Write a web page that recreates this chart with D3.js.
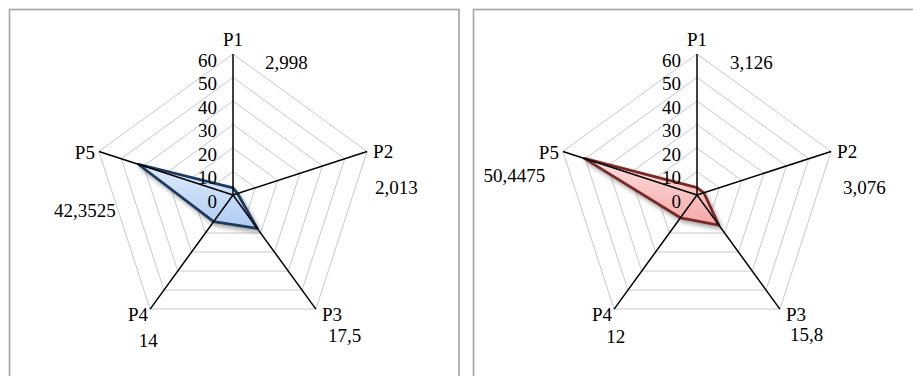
<!DOCTYPE html>
<html>
<head>
<meta charset="utf-8">
<script src="https://cdn.jsdelivr.net/npm/d3@7/dist/d3.min.js"></script>
<style>
  html, body { margin: 0; padding: 0; background: #fff; }
  svg { display: block; }
</style>
</head>
<body>
<svg id="chart" width="913" height="376"></svg>
<script>
// Axis categories and tick values
const categories = ["P1", "P2", "P3", "P4", "P5"];
const tickValues = [0, 10, 20, 30, 40, 50, 60];

// Series values for the two radar panels
const valuesLeft = [2.998, 2.013, 17.5, 14, 42.3525];
const valuesRight = [3.126, 3.076, 15.8, 12, 50.4475];

const FONT = "'Liberation Serif', 'Times New Roman', 'DejaVu Serif', serif";
const FONT_SIZE = 19;

// Layout of each panel
const panels = [
  {
    values: valuesLeft, box: { x: 9.5, y: 9.5, w: 449.5, h: 380 },
    cx: 233, cy: 195, fillTop: "#e1ecfb", fillBottom: "#aecbf4", stroke: "#1c3a5e",
    // label offsets from each axis end point: [dx, dy, anchor]
    labelOffsets: [[32, 8, "start"], [8, 36, "start"], [12, 26, "start"], [-2, 31, "middle"], [-14, 59, "middle"]]
  },
  {
    values: valuesRight, box: { x: 473.5, y: 9.5, w: 460, h: 380 },
    cx: 697, cy: 195, fillTop: "#fde0df", fillBottom: "#f5a8a7", stroke: "#7a2c28",
    labelOffsets: [[33, 8, "start"], [12, 36, "start"], [10, 25, "start"], [1.5, 27, "middle"], [-48.5, 24, "middle"]]
  }
];

const svg = d3.select("#chart");
const defs = svg.append("defs");

const shadow = defs.append("filter").attr("id", "shadow")
  .attr("x", "-20%").attr("y", "-20%").attr("width", "140%").attr("height", "140%");
shadow.append("feDropShadow").attr("dx", 2).attr("dy", 3).attr("stdDeviation", 2)
  .attr("flood-color", "#000").attr("flood-opacity", 0.35);

const r = d3.scaleLinear().domain([0, 60]).range([0, 141]);
const angle = d3.scalePoint().domain(categories).range([0, 2 * Math.PI * 4 / 5]);

const fmt = v => String(v).replace(".", ",");

function label(sel, x, y, anchor, str) {
  return sel.append("text")
    .attr("x", x).attr("y", y)
    .attr("text-anchor", anchor).attr("dominant-baseline", "central")
    .attr("font-family", FONT).attr("font-size", FONT_SIZE).attr("fill", "#000")
    .text(str);
}

panels.forEach((p, pi) => {
  // Panel frame
  svg.append("rect")
    .attr("x", p.box.x).attr("y", p.box.y).attr("width", p.box.w).attr("height", p.box.h)
    .attr("fill", "#fff").attr("stroke", "#a3a3a3").attr("stroke-width", 1.6);

  const g = svg.append("g").attr("transform", `translate(${p.cx},${p.cy})`);
  const pt = (cat, v) => {
    const a = angle(cat);
    return [r(v) * Math.sin(a), -r(v) * Math.cos(a)];
  };

  // Grid pentagons
  tickValues.filter(t => t > 0).forEach(t => {
    g.append("path")
      .attr("d", d3.line()(categories.map(c => pt(c, t))) + "Z")
      .attr("fill", "none").attr("stroke", "#c9c9c9").attr("stroke-width", 1);
  });

  // Gradient fill for the series polygon
  const gradId = "grad" + pi;
  const grad = defs.append("linearGradient").attr("id", gradId)
    .attr("x1", 0).attr("y1", 0).attr("x2", 0).attr("y2", 1);
  grad.append("stop").attr("offset", "0%").attr("stop-color", p.fillTop);
  grad.append("stop").attr("offset", "100%").attr("stop-color", p.fillBottom);

  const radial = d3.lineRadial()
    .angle((d, i) => angle(categories[i]))
    .radius(d => r(d))
    .curve(d3.curveLinearClosed);

  g.append("path")
    .attr("d", radial(p.values))
    .attr("fill", `url(#${gradId})`)
    .attr("stroke", p.stroke).attr("stroke-width", 2.8)
    .attr("stroke-linejoin", "round")
    .attr("filter", "url(#shadow)");

  // Axis spokes
  categories.forEach(c => {
    const [x, y] = pt(c, 60);
    g.append("line").attr("x1", 0).attr("y1", 0).attr("x2", x).attr("y2", y)
      .attr("stroke", "#000").attr("stroke-width", 1.5);
  });

  // Tick labels along the first axis
  tickValues.forEach(t => label(g, -16, -r(t) + 6, "end", t));

  // Category labels
  const catOff = [[0, -15, "middle"], [6, 0, "start"], [6, 5, "start"], [-2, 5, "end"], [-4, 1, "end"]];
  categories.forEach((c, i) => {
    const [x, y] = pt(c, 60);
    label(g, x + catOff[i][0], y + catOff[i][1], catOff[i][2], c);
  });

  // Value labels
  categories.forEach((c, i) => {
    const [x, y] = pt(c, 60);
    const o = p.labelOffsets[i];
    label(g, x + o[0], y + o[1], o[2], fmt(p.values[i]));
  });
});
</script>
</body>
</html>
